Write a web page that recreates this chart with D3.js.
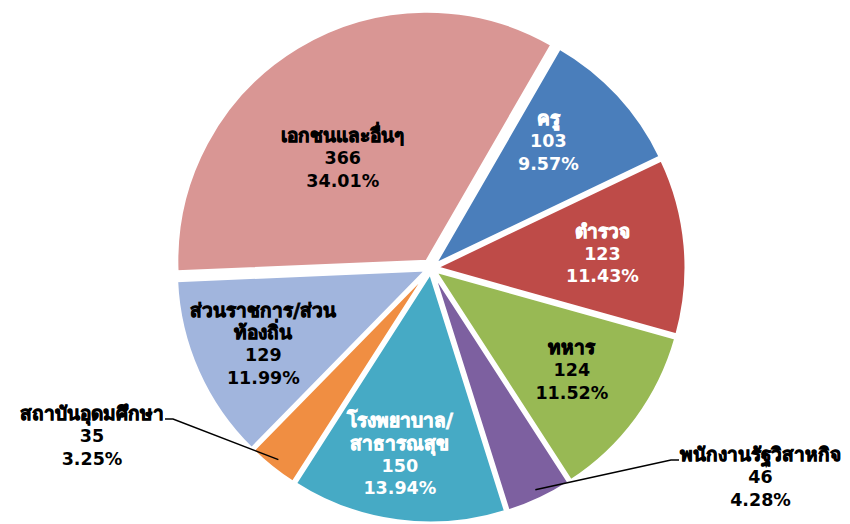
<!DOCTYPE html>
<html>
<head>
<meta charset="utf-8">
<script src="https://cdn.jsdelivr.net/npm/d3@7"></script>
<style>
  body { margin: 0; background: #fff; }
  text { font-family: Tahoma, "DejaVu Sans", sans-serif; font-weight: bold; }
</style>
</head>
<body>
<div id="chart"></div>
<script>
// data, clockwise from the first slice
const categories = ["ครู", "ตำรวจ", "ทหาร", "พนักงานรัฐวิสาหกิจ", "โรงพยาบาล/สาธารณสุข",
  "สถาบันอุดมศึกษา", "ส่วนราชการ/ส่วนท้องถิ่น", "เอกชนและอื่นๆ"];
const values = [103, 123, 124, 46, 150, 35, 129, 366];
const percents = ["9.57%", "11.43%", "11.52%", "4.28%", "13.94%", "3.25%", "11.99%", "34.01%"];
// how each label is broken into lines
const labelLines = [["ครู"], ["ตำรวจ"], ["ทหาร"], ["พนักงานรัฐวิสาหกิจ"], ["โรงพยาบาล/", "สาธารณสุข"],
  ["สถาบันอุดมศึกษา"], ["ส่วนราชการ/ส่วน", "ท้องถิ่น"], ["เอกชนและอื่นๆ"]];

const colors = ["#4a7ebb", "#be4b48", "#98b954", "#7d60a0", "#46aac5", "#f08e42", "#a1b5dd", "#d99694"];
const textColors = ["#fff", "#fff", "#000", "#000", "#fff", "#000", "#000", "#000"];

const width = 850, height = 524;
const cx = 431, cy = 268;
const radius = 250;

const svg = d3.select("#chart").append("svg")
  .attr("width", width).attr("height", height);

const data = categories.map((c, i) => ({
  name: c, value: values[i], pct: percents[i], lines: labelLines[i], index: i
}));

const pie = d3.pie()
  .sort(null)
  .value(d => d.value)
  .startAngle(30 * Math.PI / 180)
  .endAngle(390 * Math.PI / 180);

const arcs = pie(data);
const arc = d3.arc().innerRadius(0).outerRadius(radius);

// slight explosion, the big slice a bit more
const explode = i => i === 7 ? 8 : 5;
const mid = d => (d.startAngle + d.endAngle) / 2;
const polar = (a, r) => [Math.sin(a) * r, -Math.cos(a) * r];

const g = svg.append("g").attr("transform", `translate(${cx},${cy})`);

g.selectAll("path.slice")
  .data(arcs)
  .join("path")
  .attr("class", "slice")
  .attr("d", arc)
  .attr("fill", (d, i) => colors[i])
  .attr("stroke", "#fff")
  .attr("stroke-width", 3)
  .attr("transform", (d, i) => {
    const [x, y] = polar(mid(d), explode(i));
    return `translate(${x},${y})`;
  });

// labels inside slices: distance from centre and turn (degrees) off the bisector
const insideR = [173, 172, 174, null, 189, null, 184, 141];
const insideTurn = [-4.5, 0.2, -0.4, null, 1.9, null, -0.3, -7.5];
// labels outside, with a leader line: joint of the leader and text side
const outside = {
  3: {x: 680, y: 460, anchor: "start"},
  5: {x: 164, y: 419, anchor: "end"}
};
const lineH = 22.5;
const isNum = s => /^[0-9.%]+$/.test(s);

arcs.forEach((d, i) => {
  const lines = d.data.lines.concat([String(d.data.value), d.data.pct]);
  let x, y, anchor = "middle";
  if (insideR[i] != null) {
    [x, y] = polar(mid(d) + insideTurn[i] * Math.PI / 180, insideR[i]);
    x += cx; y += cy;
    y -= (lines.length - 1) * lineH / 2;
  } else {
    const o = outside[i];
    const [px, py] = polar(mid(d), radius * 0.96 + explode(i));
    const jx = o.anchor === "start" ? o.x - 9 : o.x + 9;
    svg.append("polyline")
      .attr("points", [[cx + px, cy + py], [jx, o.y], [o.anchor === "start" ? o.x - 1 : o.x + 1, o.y]].join(" "))
      .attr("fill", "none")
      .attr("stroke", "#000")
      .attr("stroke-width", 1.5);
    y = o.y - 5.5;
    x = o.x;
    anchor = o.anchor;
  }
  const t = svg.append("text")
    .attr("text-anchor", "middle")
    .attr("fill", textColors[i]);
  lines.forEach((ln, k) => {
    const thai = !isNum(ln);
    t.append("tspan")
      .attr("x", x).attr("y", y + k * lineH).attr("dy", "0.35em")
      .attr("font-size", thai ? 19 : 17.5)
      // the Thai fallback face has no bold, thicken it a little
      .attr("stroke", thai ? textColors[i] : null)
      .attr("stroke-width", thai ? 0.8 : null)
      .text(ln);
  });
  if (insideR[i] == null) {
    // centre the block under the first line, which starts/ends at the leader
    const w = t.select("tspan").node().getComputedTextLength();
    const centre = anchor === "start" ? x + w / 2 : x - w / 2;
    t.selectAll("tspan").attr("x", centre);
  }
});
</script>
</body>
</html>
